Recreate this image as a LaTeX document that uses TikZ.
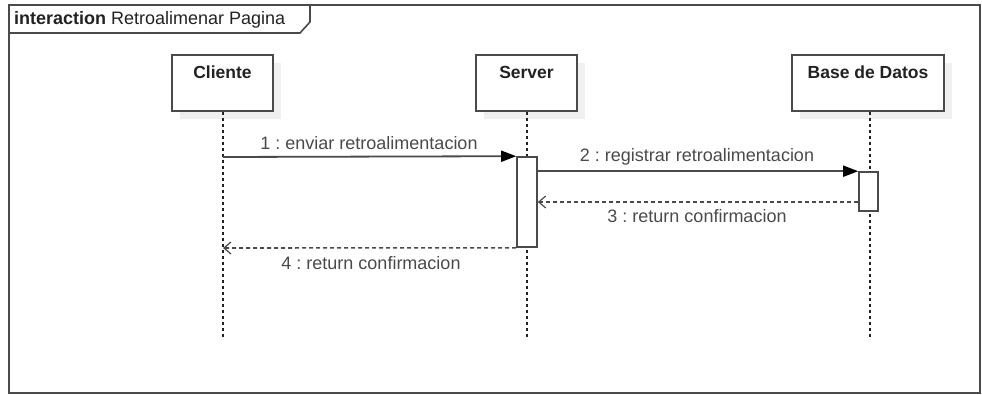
\documentclass[tikz,border=0pt]{standalone}
\usepackage{fontspec}
\setmainfont{Liberation Sans}
\usetikzlibrary{arrows.meta}
\definecolor{linec}{HTML}{4A4A4A}
\definecolor{txtc}{HTML}{4A4A4A}
\definecolor{headc}{HTML}{222222}
\frenchspacing
\begin{document}
\begin{tikzpicture}[x=1pt,y=-1pt,
  headbox/.style={draw=linec,line width=1.8pt,fill=white,minimum width=#1,minimum height=56pt,inner sep=0pt},
  headtext/.style={font=\fontsize{17.5}{20}\selectfont\bfseries,text=headc,inner sep=0pt},
  actbox/.style={draw=linec,line width=1.6pt,fill=white,inner sep=0pt},
  lifeline/.style={draw=headc,line width=1.6pt,dash pattern=on 3pt off 3pt},
  msg/.style={draw=linec,line width=1.8pt,-{Triangle[length=15pt,width=11pt,fill=black,color=black]}},
  ret/.style={draw=linec,line width=1.6pt,dash pattern=on 4pt off 3pt,-{Straight Barb[length=7pt,width=12pt,line width=1.2pt]}},
  lbl/.style={font=\fontsize{18}{20}\selectfont,text=txtc,inner sep=0pt},
  shadow/.style={fill=black!6,draw=none}]
\useasboundingbox (0,0) rectangle (982,395);
% frame
\draw[linec,line width=1.6pt] (9,5) rectangle (980,393);
\draw[linec,line width=1.6pt] (9,33) -- (300,33) -- (310,22) -- (310,5);
\node[anchor=west,inner sep=0pt,font=\fontsize{18}{20}\selectfont,text=headc] (title) at (14,20) {\textbf{interaction} Retroalimenar Pagina};
% shadows
\fill[shadow] (180,63) rectangle (281,119);
\fill[shadow] (484,63) rectangle (585,119);
\fill[shadow] (800,63) rectangle (952,119);
% heads
\node[headbox=101pt] (cli) at (222.5,83) {};
\node[headbox=101pt] (srv) at (526.5,83) {};
\node[headbox=152pt] (bd) at (868,83) {};
\node[headtext] (clit) at (222.5,72) {Cliente};
\node[headtext] (srvt) at (526.5,72) {Server};
\node[headtext] (bdt) at (868,72) {Base de Datos};
% lifeline ends
\coordinate (cliend) at (223,337);
\coordinate (srvend) at (527,337);
\coordinate (bdend) at (870,337);
\draw[lifeline] (cli.south -| cliend) -- (cliend);
\draw[lifeline] (srv.south -| srvend) -- (srvend);
\draw[lifeline] (bd.south -| bdend) -- (bdend);
% activations
\node[actbox,minimum width=20pt,minimum height=90pt] (act1) at (527,202) {};
\node[actbox,minimum width=19pt,minimum height=39pt] (act2) at (868.5,191.5) {};
% messages
\coordinate (m1s) at (223,157);
\coordinate (m4e) at (223,248);
\draw[msg] (m1s) -- (act1.north west);
\node[lbl] (l1) at (369,143) {1 : enviar retroalimentacion};
\draw[msg] (act1.east |- act2.north) -- (act2.north west);
\node[lbl] (l2) at (697,157) {2 : registrar retroalimentacion};
\draw[ret] (act2.west |- 0,202) -- (act1.east |- 0,202);
\node[lbl] (l3) at (697,216) {3 : return confirmacion};
\draw[ret] (act1.south west) -- (m4e);
\node[lbl] (l4) at (371,263) {4 : return confirmacion};
\end{tikzpicture}
\end{document}
